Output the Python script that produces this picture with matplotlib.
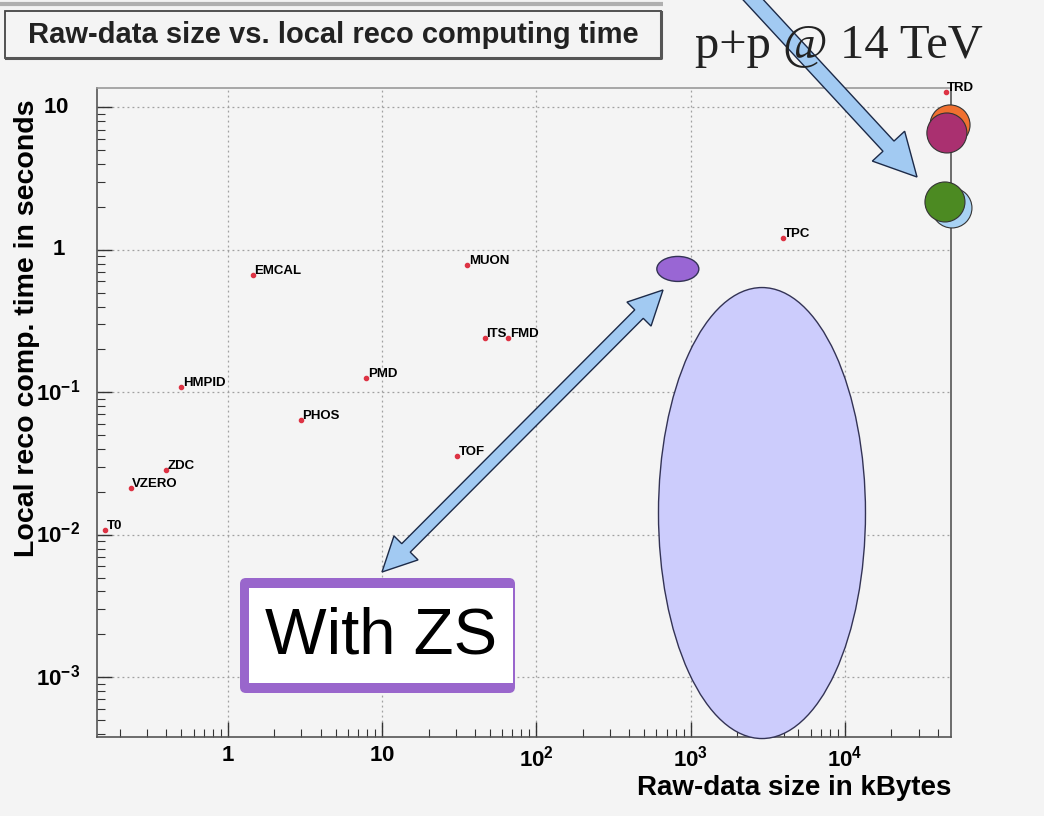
import numpy as np
import matplotlib
matplotlib.use("Agg")
import matplotlib.pyplot as plt
from matplotlib.patches import Ellipse, Polygon, Rectangle, FancyBboxPatch
from matplotlib.ticker import FixedLocator, FixedFormatter, LogLocator, NullFormatter

plt.rcParams["font.family"] = ["Liberation Sans", "DejaVu Sans"]
plt.rcParams["mathtext.fontset"] = "custom"
plt.rcParams["mathtext.rm"] = "Liberation Sans"
plt.rcParams["mathtext.bf"] = "Liberation Sans:bold"

# detector raw-data size (kB) and local reconstruction time (s)
detectors = ["T0", "VZERO", "ZDC", "HMPID", "EMCAL", "PHOS", "PMD",
             "MUON", "TOF", "ITS", "FMD", "TPC", "TRD"]
raw_kb = [0.16, 0.235, 0.40, 0.50, 1.45, 2.97, 7.9,
          35.7, 30.7, 46.6, 65.8, 3960, 45000]
reco_s = [0.0108, 0.0214, 0.0286, 0.109, 0.67, 0.064, 0.126,
          0.785, 0.036, 0.24, 0.24, 1.21, 12.9]

# p+p @ 14 TeV totals
pp_kb = [48000, 45800, 49400, 44500]
pp_s = [7.54, 6.62, 1.97, 2.17]
pp_colors = ["#f07030", "#aa3070", "#a8d2f4", "#4c8a22"]

# zero-suppressed TPC and the full-size spread
zs_kb, zs_s = 826, 0.735
spread_kb, spread_s = 2900, 0.0142

x_ticks = [1, 10, 100, 1000, 10000]
x_labels = [r"$\mathbf{1}$", r"$\mathbf{10}$", r"$\mathbf{10^{2}}$",
            r"$\mathbf{10^{3}}$", r"$\mathbf{10^{4}}$"]
y_ticks = [0.001, 0.01, 0.1, 1, 10]
y_labels = [r"$\mathbf{10^{-3}}$", r"$\mathbf{10^{-2}}$", r"$\mathbf{10^{-1}}$",
            r"$\mathbf{1}$", r"$\mathbf{10}$"]

W, H = 1044, 816
bg = "#f4f4f4"
fig = plt.figure(figsize=(W / 100, H / 100), dpi=100, facecolor=bg)

# axes frame in pixels: left 97, right 951, top 88, bottom 737
AX_L, AX_R, AX_T, AX_B = 97, 951, 88, 737
ax = fig.add_axes([AX_L / W, 1 - AX_B / H, (AX_R - AX_L) / W, (AX_B - AX_T) / H])
ax.set_facecolor(bg)
ax.set_xscale("log")
ax.set_yscale("log")
ax.set_xlim(0.142, 4.87e4)
ax.set_ylim(3.8e-4, 13.7)

ax.xaxis.set_major_locator(FixedLocator(x_ticks))
ax.xaxis.set_major_formatter(FixedFormatter(x_labels))
ax.yaxis.set_major_locator(FixedLocator(y_ticks))
ax.yaxis.set_major_formatter(NullFormatter())
ax.xaxis.set_minor_locator(LogLocator(base=10, subs=np.arange(2, 10), numticks=20))
ax.yaxis.set_minor_locator(LogLocator(base=10, subs=np.arange(2, 10), numticks=20))
ax.xaxis.set_minor_formatter(NullFormatter())
ax.yaxis.set_minor_formatter(NullFormatter())
ax.tick_params(which="both", direction="in", top=False, right=False, color="#333333")
ax.tick_params(which="major", length=11, width=1.0, labelsize=16)
ax.tick_params(which="minor", length=6, width=0.8)
ax.tick_params(axis="x", pad=6)
for s in ax.spines.values():
    s.set_color("#555555")
    s.set_linewidth(1.2)
ax.spines["top"].set_color("#999999")
ax.grid(True, which="major", color="#a0a0a0", linestyle=(0, (1.5, 2.5)), linewidth=0.9)

# y tick labels: plain numbers sit left, powers stick out to the right
axw, axh = AX_R - AX_L, AX_B - AX_T
ytrans = ax.get_yaxis_transform()
for val, lab in zip(y_ticks, y_labels):
    right_px = 66 if val == 1 else 69 if val == 10 else 80
    ax.text((right_px - AX_L) / axw, val, lab, transform=ytrans, fontsize=16,
            ha="right", va="center", clip_on=False)

ax.set_xlabel("Raw-data size in kBytes", fontsize=20, fontweight="bold", loc="right")
ax.xaxis.set_label_coords(1.0, -0.079)
ax.xaxis.label.set_va("center")
ax.set_ylabel("Local reco comp. time in seconds", fontsize=20.5, fontweight="bold")
ax.yaxis.set_label_coords((27 - AX_L) / axw, 0.63)
ax.yaxis.label.set_va("center")

# detector points with their names
ax.plot(raw_kb, reco_s, "o", color="#dd3344", markersize=3, zorder=4)
for name, x, y in zip(detectors, raw_kb, reco_s):
    ax.annotate(name, (x, y), xytext=(1, -1.5), textcoords="offset points",
                fontsize=9.5, fontweight="bold", ha="left", va="bottom", zorder=5)

# large circles at the full p+p event size
ax.scatter(pp_kb, pp_s, s=830, c=pp_colors, edgecolors="#333333",
           linewidths=0.8, zorder=6, clip_on=False)


def frac(x, y):
    return ax.transAxes.inverted().transform(ax.transData.transform((x, y)))


ax.add_patch(Ellipse(frac(zs_kb, zs_s), 42 / axw, 25 / axh, transform=ax.transAxes,
                     facecolor="#9966d4", edgecolor="#333355", linewidth=1.0,
                     zorder=6, clip_on=False))
ax.add_patch(Ellipse(frac(spread_kb, spread_s), 207 / axw, 451 / axh, transform=ax.transAxes,
                     facecolor="#ccccfc", edgecolor="#333355", linewidth=1.0,
                     zorder=6, clip_on=False))

# overlay in pixel coordinates for the annotations
ov = fig.add_axes([0, 0, 1, 1], zorder=5)
ov.set_xlim(0, W)
ov.set_ylim(H, 0)
ov.axis("off")
ov.patch.set_visible(False)


def arrow_shape(p0, p1, shaft, head_w, head_len, double=False):
    p0, p1 = np.asarray(p0, float), np.asarray(p1, float)
    u = (p1 - p0) / np.hypot(*(p1 - p0))
    n = np.array([-u[1], u[0]])
    b1 = p1 - u * head_len
    pts = [b1 + n * shaft / 2, b1 + n * head_w / 2, p1, b1 - n * head_w / 2, b1 - n * shaft / 2]
    if double:
        b0 = p0 + u * head_len
        pts += [b0 - n * shaft / 2, b0 - n * head_w / 2, p0, b0 + n * head_w / 2, b0 + n * shaft / 2]
    else:
        pts += [p0 - n * shaft / 2, p0 + n * shaft / 2]
    return Polygon(pts, closed=True, facecolor="#a2caf2", edgecolor="#1c2a48",
                   linewidth=1.0, joinstyle="miter")


# title box
ov.plot([0, 663], [4, 4], color="#b0b0b0", linewidth=3, solid_capstyle="butt")
ov.add_patch(Rectangle((5, 11), 656, 47, facecolor=bg, edgecolor="#444444", linewidth=1.3))
ov.plot([661, 661, 6], [12, 58, 58], color="#555555", linewidth=2.2)
ov.text(333, 35, "Raw-data size vs. local reco computing time", fontsize=21,
        fontweight="bold", ha="center", va="center", color="#222222")

ov.text(839, 46, "p+p @ 14 TeV", family=["Liberation Serif", "DejaVu Serif"],
        fontsize=35, ha="center", va="center", color="#222222")

ov.add_patch(arrow_shape((746, -8), (917, 177), 15, 44, 42))
ov.add_patch(arrow_shape((382, 572), (663, 290), 12, 34, 34, double=True))

# "With ZS" box
ov.add_patch(FancyBboxPatch((240, 578), 275, 115, boxstyle="round,pad=0,rounding_size=6",
                            facecolor="#9966cc", edgecolor="none"))
ov.add_patch(Rectangle((249, 588), 264, 95, facecolor="white", edgecolor="none"))
ov.text(381, 637, "With ZS", fontsize=47, ha="center", va="center", color="black")

fig.savefig("out.png", dpi=100, facecolor=bg)
